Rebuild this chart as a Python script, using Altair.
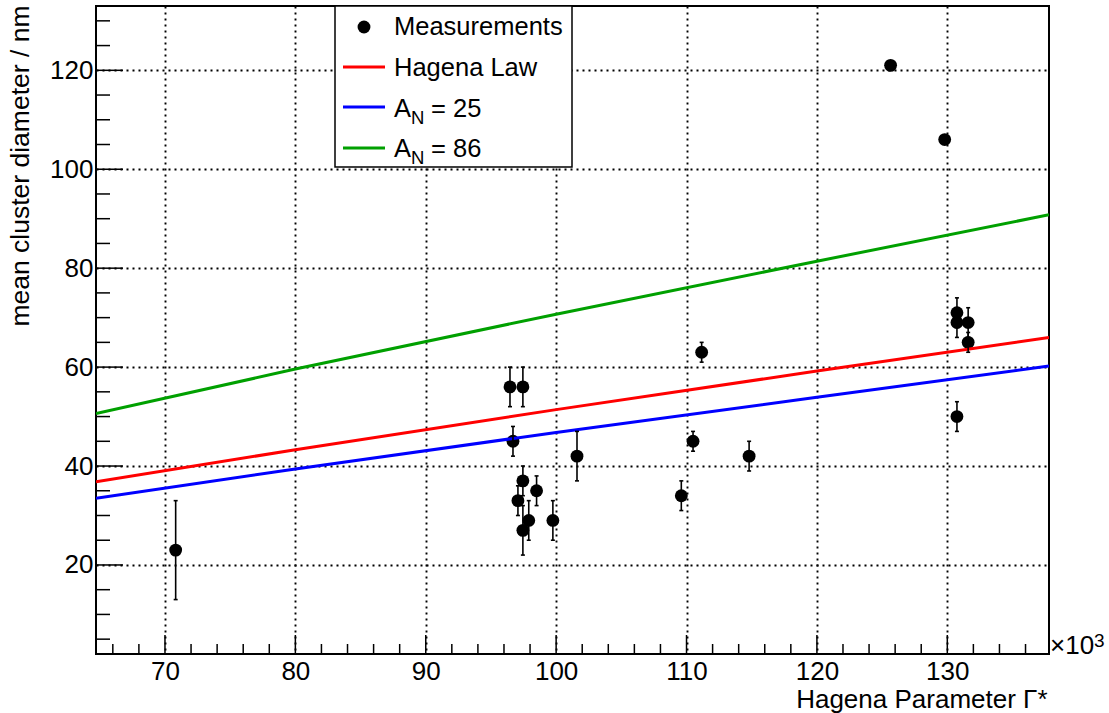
import altair as alt
import pandas as pd

# ---- data ----
gamma = [70.82, 96.46, 97.45, 96.69, 97.07, 97.45, 97.45, 97.9, 98.5, 99.75, 101.6,
         109.6, 110.5, 111.16, 114.8, 125.65, 129.8, 130.74, 130.74, 131.6, 131.6, 130.74]
diam = [23, 56, 56, 45, 33, 37, 27, 29, 35, 29, 42,
        34, 45, 63, 42, 121, 106, 71, 69, 69, 65, 50]
err = [10, 4, 4, 3, 3, 3, 5, 4, 3, 4, 5,
       3, 2, 2, 3, 0, 0, 3, 3, 3, 2, 3]

line_x = [64.71, 80, 100, 120, 137.8]
hagena = [36.8, 43.3, 51.4, 59.2, 66.0]
an25 = [33.5, 39.4, 46.8, 53.9, 60.2]
an86 = [50.6, 59.6, 70.7, 81.4, 90.8]
series_names = ["Hagena Law", "A_N = 25", "A_N = 86"]
series_colors = ["#ff0000", "#0000ff", "#00a000"]

x_major = [70, 80, 90, 100, 110, 120, 130]
x_minor = [v for v in range(66, 138, 2) if v % 10 != 0]
y_major = [20, 40, 60, 80, 100, 120]
y_minor = [v for v in range(5, 133, 5) if v % 20 != 0]

FONT = "Liberation Sans"
FS = 26
W, H = 953, 648

pts = pd.DataFrame({"g": gamma, "d": diam, "e": err})
pts["lo"] = pts["d"] - pts["e"]
pts["hi"] = pts["d"] + pts["e"]
bars = pts[pts["e"] > 0]

rows = []
for name, vals in zip(series_names, [hagena, an25, an86]):
    for xv, yv in zip(line_x, vals):
        rows.append({"g": xv, "d": yv, "s": name})
lines_df = pd.DataFrame(rows)

xs = alt.Scale(domain=[64.71, 137.8], nice=False, zero=False)
ys = alt.Scale(domain=[2, 133], nice=False, zero=False)

x_axis = alt.Axis(values=x_major, grid=True, gridColor="black", gridDash=[2, 4], gridWidth=1.9,
                  ticks=False, domain=False, labelFont=FONT, labelFontSize=FS, labelColor="black",
                  labelPadding=4, title="Hagena Parameter Γ*", titleFont=FONT, titleFontSize=FS,
                  titleFontWeight="normal", titleColor="black", titleX=951, titleY=53,
                  titleAlign="right", titleBaseline="alphabetic", labelOverlap=False)
y_axis = alt.Axis(values=y_major, grid=True, gridColor="black", gridDash=[2, 4], gridWidth=1.9,
                  ticks=False, domain=False, labelFont=FONT, labelFontSize=FS, labelColor="black",
                  labelPadding=3, title="mean cluster diameter / nm", titleFont=FONT, titleFontSize=26.5,
                  titleFontWeight="normal", titleColor="black", titleAngle=270, titleX=-68, titleY=-1,
                  titleAlign="right", titleBaseline="alphabetic", labelOverlap=False)


def X(field):
    return alt.X(field, type="quantitative", scale=xs, axis=x_axis)


def Y(field):
    return alt.Y(field, type="quantitative", scale=ys, axis=y_axis)


points = alt.Chart(pts).mark_point(filled=True, shape="circle", size=165, color="black", opacity=1).encode(
    x=X("g"), y=Y("d"))

ebar = alt.Chart(bars).mark_rule(color="black", strokeWidth=1.6).encode(
    x=X("g"), y=Y("lo"), y2="hi:Q")
cap_hi = alt.Chart(bars).mark_rule(color="black", strokeWidth=1.6, xOffset=-2, x2Offset=2).encode(
    x=X("g"), x2="g:Q", y=Y("hi"))
cap_lo = alt.Chart(bars).mark_rule(color="black", strokeWidth=1.6, xOffset=-2, x2Offset=2).encode(
    x=X("g"), x2="g:Q", y=Y("lo"))

lines = alt.Chart(lines_df).mark_line(strokeWidth=3, clip=True).encode(
    x=X("g"), y=Y("d"),
    color=alt.Color("s:N", scale=alt.Scale(domain=series_names, range=series_colors), legend=None),
    detail="s:N",
)


def yticks(vals, length):
    return alt.Chart(pd.DataFrame({"g": vals})).mark_rule(color="black", strokeWidth=1.5).encode(
        y=Y("g"), x=alt.value(0), x2=alt.value(length))


def xticks(vals, length):
    return alt.Chart(pd.DataFrame({"g": vals})).mark_rule(color="black", strokeWidth=1.5).encode(
        x=X("g"), y=alt.value(H), y2=alt.value(H - length))


ticks = [yticks(y_major, 27), yticks(y_minor, 14), xticks(x_major, 19), xticks(x_minor, 10)]

mult = alt.Chart(pd.DataFrame({"t": ["×10"]})).mark_text(
    font=FONT, fontSize=FS, align="left", baseline="alphabetic", color="black").encode(
    text="t:N", x=alt.value(954), y=alt.value(648))
sup = alt.Chart(pd.DataFrame({"t": ["3"]})).mark_text(
    font=FONT, fontSize=19, align="left", baseline="alphabetic", color="black").encode(
    text="t:N", x=alt.value(998), y=alt.value(641))

leg_box = alt.Chart(pd.DataFrame({"a": [0]})).mark_rect(fill="white", stroke="black", strokeWidth=1.5).encode(
    x=alt.value(239), x2=alt.value(476), y=alt.value(0), y2=alt.value(161))
leg_dot = alt.Chart(pd.DataFrame({"a": [0]})).mark_point(
    filled=True, shape="circle", size=165, color="black", opacity=1).encode(
    x=alt.value(268), y=alt.value(21))


def leg_line(color, yv):
    return alt.Chart(pd.DataFrame({"a": [0]})).mark_rule(color=color, strokeWidth=3).encode(
        x=alt.value(247), x2=alt.value(289), y=alt.value(yv))


def leg_text(t, xv, yv, size=25.5):
    return alt.Chart(pd.DataFrame({"t": [t]})).mark_text(
        font=FONT, fontSize=size, align="left", baseline="alphabetic", color="black").encode(
        text="t:N", x=alt.value(xv), y=alt.value(yv))


legend = [leg_box, leg_dot,
          leg_line(series_colors[0], 61), leg_line(series_colors[1], 101), leg_line(series_colors[2], 142),
          leg_text("Measurements", 298, 29), leg_text("Hagena Law", 298, 70),
          leg_text("A", 298, 110.5), leg_text("N", 315, 117.5, 18.5), leg_text("= 25", 335, 110.5),
          leg_text("A", 298, 150.5), leg_text("N", 315, 157.5, 18.5), leg_text("= 86", 335, 150.5)]

chart = alt.layer(points, lines, ebar, cap_hi, cap_lo, *ticks, mult, sup, *legend).properties(
    width=W, height=H,
    padding={"left": 96, "top": 6, "right": 60, "bottom": 59},
    autosize=alt.AutoSizeParams(type="none"),
    background="white",
).configure_view(stroke="black", strokeWidth=2)

chart.save("out.html", embed_options={"renderer": "svg", "actions": False})
